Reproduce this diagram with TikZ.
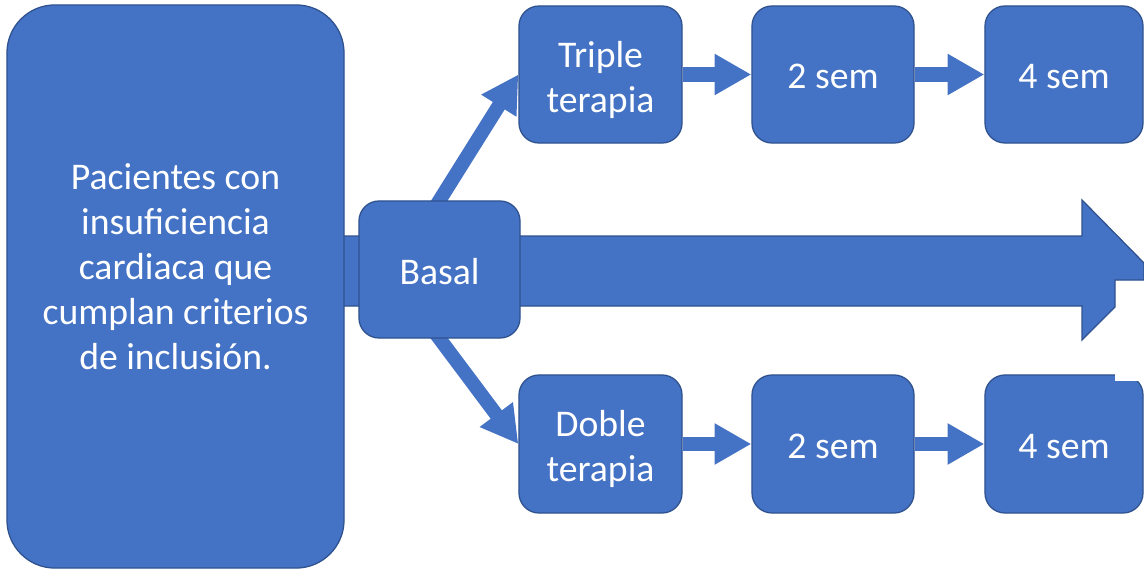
\documentclass[tikz,border=0pt]{standalone}
\usepackage{fontspec}
\setmainfont{Carlito}
\usetikzlibrary{arrows.meta}
\definecolor{boxblue}{HTML}{4472C4}
\definecolor{boxline}{HTML}{2F528F}
\pgfdeclarelayer{bg}
\pgfsetlayers{bg,main}
\tikzset{
  box/.style={draw=boxline, line width=0.9pt, fill=boxblue,
    rounded corners=0.5cm, inner sep=0pt},
  lbl/.style={text=white, align=center, inner sep=0pt,
    font=\fontsize{26.8pt}{32pt}\selectfont},
  barrow/.style={draw=boxblue, line width=0.35cm,
    -{Triangle[length=0.92cm,width=0.97cm]}},
}
\begin{document}
\begin{tikzpicture}[x=0.025cm,y=-0.025cm]
\useasboundingbox (0,0) rectangle (1144,571);
\node[box, rounded corners=1.2cm, minimum width=8.425cm, minimum height=14.075cm] (pac) at (175.5,286.5) {};
\node[box, minimum width=4.025cm, minimum height=3.425cm] (basal) at (439.5,269.5) {};
\node[box, minimum width=4.075cm, minimum height=3.425cm] (triple) at (600.5,74.5) {};
\node[box, minimum width=4.05cm, minimum height=3.425cm] (t2) at (833,74.5) {};
\node[box, minimum width=3.95cm, minimum height=3.425cm] (t4) at (1064,74.5) {};
\node[box, minimum width=4.075cm, minimum height=3.45cm] (doble) at (600.5,444) {};
\node[box, minimum width=4.05cm, minimum height=3.45cm] (d2) at (833,444) {};
\node[box, minimum width=3.95cm, minimum height=3.45cm] (d4) at (1064,444) {};
\node[lbl] (pacT) at ([yshift=0.49cm]pac.center)
  {Pacientes con\\insuficiencia\\cardiaca que\\cumplan criterios\\de inclusión.};
\node[lbl] (basalT) at ([yshift=-0.05cm]basal.center) {Basal};
\node[lbl] (tripleT) at ([yshift=-0.13cm]triple.center) {Triple\\terapia};
\node[lbl] (t2T) at ([yshift=-0.06cm]t2.center) {2 sem};
\node[lbl] (t4T) at ([yshift=-0.06cm]t4.center) {4 sem};
\node[lbl] (dobleT) at ([yshift=-0.12cm]doble.center) {Doble\\terapia};
\node[lbl] (d2T) at ([yshift=-0.07cm]d2.center) {2 sem};
\node[lbl] (d4T) at ([yshift=-0.07cm]d4.center) {4 sem};
\begin{pgfonlayer}{bg}
  \fill[boxblue, draw=boxline, line width=0.9pt]
    (340,236) -- (1082,236) -- (1082,200) -- (1144,263) -- (1144,280)
    -- (1115,280) -- (1115,307) -- (1082,340) -- (1082,306) -- (340,306) -- cycle;
  \draw[barrow, shorten <=-0.3cm] (basal.north) -- (triple.west);
  \draw[barrow, shorten <=-0.3cm] (basal.south) -- (doble.west);
  \draw[barrow] (triple.east) -- (t2.west);
  \draw[barrow] (t2.east) -- (t4.west);
  \draw[barrow] (doble.east) -- (d2.west);
  \draw[barrow] (d2.east) -- (d4.west);
\end{pgfonlayer}
\fill[white] (1115,360) rectangle (1146,380.5);
\end{tikzpicture}
\end{document}
